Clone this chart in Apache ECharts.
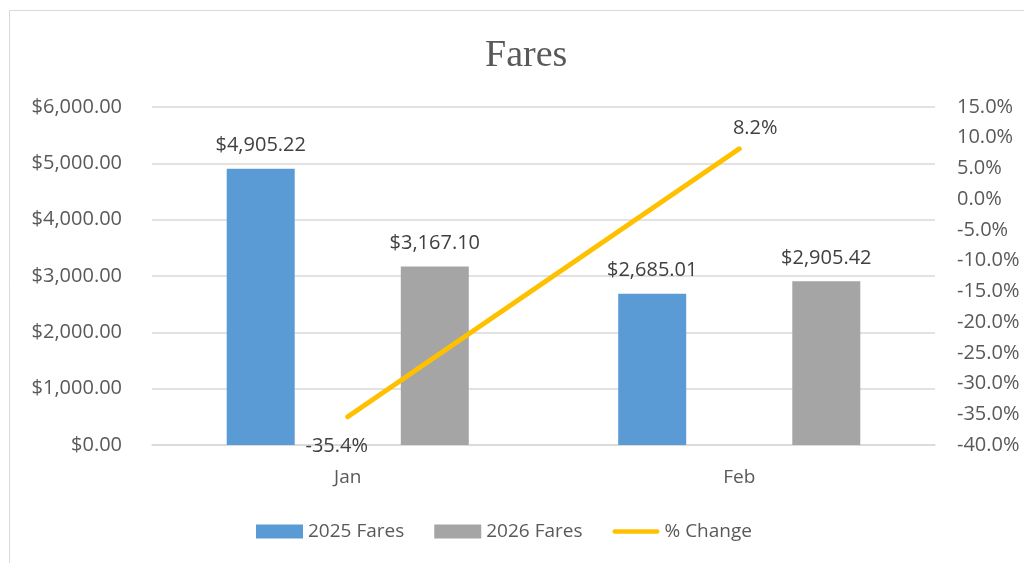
<!DOCTYPE html>
<html>
<head>
<meta charset="utf-8">
<script src="https://cdn.jsdelivr.net/npm/echarts@6/dist/echarts.min.js"></script>
<style>
  html, body { margin: 0; padding: 0; background: #fff; }
  #main { width: 1024px; height: 563px; }
</style>
</head>
<body>
<div id="main"></div>
<script>
var months = ['Jan', 'Feb'];
var fares2025 = [4905.22, 2685.01];
var fares2026 = [3167.10, 2905.42];
var pctChange = [-35.4, 8.2];

var fontFamily = '"Open Sans", "Liberation Sans", sans-serif';
var textColor = '#595959';

function money(v) {
	return '$' + Number(v).toLocaleString('en-US', { minimumFractionDigits: 2, maximumFractionDigits: 2 });
}

var myChart = echarts.init(document.getElementById('main'));
var option = {
	backgroundColor: '#fff',
	animation: false,
	graphic: [{
		type: 'rect',
		shape: { x: 9.5, y: 10.5, width: 1030, height: 570 },
		style: { fill: 'none', stroke: '#d9d9d9', lineWidth: 1 },
		z: -1
	}],
	title: {
		text: 'Fares',
		left: 485,
		top: 37,
		padding: 0,
		textStyle: {
			fontFamily: '"Liberation Serif", serif',
			fontWeight: 'normal',
			fontSize: 38,
			color: '#595959'
		}
	},
	legend: {
		bottom: 22,
		left: 256,
		padding: 0,
		itemWidth: 47,
		itemHeight: 14,
		itemGap: 30,
		textStyle: { fontFamily: fontFamily, fontSize: 19, color: textColor },
		data: [
			{ name: '2025 Fares', icon: 'rect' },
			{ name: '2026 Fares', icon: 'rect' },
			{ name: '% Change', icon: 'path://M2.5,0 L47.5,0 A2.5,2.5 0 0 1 47.5,5 L2.5,5 A2.5,2.5 0 0 1 2.5,0 Z' }
		]
	},
	grid: { left: 152, right: 89, top: 107, bottom: 118 },
	xAxis: {
		type: 'category',
		data: months,
		axisLine: { lineStyle: { color: '#d9d9d9', width: 1.5 } },
		axisTick: { show: false },
		axisLabel: { fontFamily: fontFamily, fontSize: 19, color: textColor, margin: 23 }
	},
	yAxis: [{
		type: 'value',
		min: 0,
		max: 6000,
		interval: 1000,
		axisLine: { show: false },
		axisTick: { show: false },
		splitLine: { lineStyle: { color: '#d9d9d9', width: 1.5 } },
		axisLabel: {
			fontFamily: fontFamily, fontSize: 20, color: textColor, margin: 30,
			formatter: money
		}
	}, {
		type: 'value',
		min: -40,
		max: 15,
		interval: 5,
		axisLine: { show: false },
		axisTick: { show: false },
		splitLine: { show: false },
		axisLabel: {
			fontFamily: fontFamily, fontSize: 20, color: textColor, margin: 22,
			formatter: function (v) { return v.toFixed(1) + '%'; }
		}
	}],
	series: [{
		name: '2025 Fares',
		type: 'bar',
		data: fares2025,
		barWidth: 68,
		barGap: '156%',
		itemStyle: { color: '#5b9bd5' },
		label: {
			show: true, position: 'top', distance: 13,
			fontFamily: fontFamily, fontSize: 20, color: '#404040',
			formatter: function (p) { return money(p.value); }
		}
	}, {
		name: '2026 Fares',
		type: 'bar',
		data: fares2026,
		barWidth: 68,
		itemStyle: { color: '#a5a5a5' },
		label: {
			show: true, position: 'top', distance: 13,
			fontFamily: fontFamily, fontSize: 20, color: '#404040',
			formatter: function (p) { return money(p.value); }
		}
	}, {
		name: '% Change',
		type: 'line',
		yAxisIndex: 1,
		data: pctChange,
		symbol: 'none',
		itemStyle: { color: '#ffc000' },
		lineStyle: { color: '#ffc000', width: 5, cap: 'round' }
	}, {
		name: 'pct labels',
		type: 'scatter',
		yAxisIndex: 1,
		symbolSize: 0,
		itemStyle: { opacity: 1 },
		data: [
			{ value: pctChange[0], label: { position: 'bottom', offset: [-11, 15] } },
			{ value: pctChange[1], label: { position: 'top', offset: [16, -5] } }
		],
		label: {
			show: true,
			fontFamily: fontFamily, fontSize: 20, color: '#404040',
			formatter: function (p) { return p.value.toFixed(1) + '%'; }
		}
	}]
};
myChart.setOption(option);
</script>
</body>
</html>
